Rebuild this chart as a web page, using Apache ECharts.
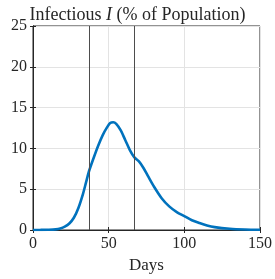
<!DOCTYPE html>
<html>
<head>
<meta charset="utf-8">
<script src="https://cdn.jsdelivr.net/npm/echarts@6/dist/echarts.min.js"></script>
<style>
  html, body { margin: 0; padding: 0; background: #fff; }
  #chart { width: 275px; height: 279px; }
</style>
</head>
<body>
<div id="chart"></div>
<script>
// infectious share
const days = [0, 5, 10, 15, 18, 21, 24, 27, 30, 33, 35, 37, 40, 43, 46, 49, 51, 53, 55, 58, 61, 64, 67, 70, 73, 76, 80, 85, 90, 95, 100, 105, 110, 115, 120, 130, 140, 150]
const infected = [0.0, 0.01, 0.03, 0.08, 0.18, 0.4, 0.8, 1.5, 2.7, 4.4, 5.8, 7.2, 8.8, 10.3, 11.6, 12.6, 13.1, 13.2, 13.0, 12.2, 11.0, 9.8, 8.9, 8.4, 7.6, 6.6, 5.3, 3.9, 2.9, 2.2, 1.7, 1.2, 0.85, 0.55, 0.35, 0.15, 0.06, 0.03]
const eventDays = [37.3, 66.8]
const xTicks = [0, 50, 100, 150]
const yTicks = [0, 5, 10, 15, 20, 25]

const font = 'Liberation Serif'
const chart = echarts.init(document.getElementById('chart'))

chart.setOption({
  animation: false,
  title: {
    text: 'Infectious {i|I} (% of Population)',
    left: 'center', top: 1,
    textStyle: {
      fontFamily: font, fontSize: 18, fontWeight: 'normal', color: '#262626',
      rich: { i: { fontFamily: font, fontSize: 18, fontStyle: 'italic', color: '#262626' } }
    }
  },
  grid: { left: 33, right: 13, top: 26, bottom: 44, show: true, borderColor: '#262626', borderWidth: 1 },
  xAxis: [
    {
      type: 'value', min: xTicks[0], max: xTicks[xTicks.length - 1], interval: 50,
      name: 'Days', nameLocation: 'middle', nameGap: 27,
      nameTextStyle: { fontFamily: font, fontSize: 17, color: '#262626' },
      axisLine: { lineStyle: { color: '#262626' } },
      axisTick: { inside: true, length: 3, lineStyle: { color: '#262626' } },
      axisLabel: { fontFamily: font, fontSize: 16, color: '#262626', margin: 6 },
      splitLine: { lineStyle: { color: '#e3e3e3' } }
    },
    {
      type: 'value', position: 'top', min: 0, max: 150, interval: 50,
      axisLine: { lineStyle: { color: '#262626' } },
      axisTick: { inside: true, length: 3, lineStyle: { color: '#262626' } },
      axisLabel: { show: false }, splitLine: { show: false }
    }
  ],
  yAxis: [
    {
      type: 'value', min: yTicks[0], max: yTicks[yTicks.length - 1], interval: 5,
      axisLine: { show: true, lineStyle: { color: '#262626' } },
      axisTick: { show: true, inside: true, length: 3, lineStyle: { color: '#262626' } },
      axisLabel: { fontFamily: font, fontSize: 16, color: '#262626', margin: 6 },
      splitLine: { lineStyle: { color: '#e3e3e3' } }
    },
    {
      type: 'value', position: 'right', min: 0, max: 25, interval: 5,
      axisLine: { show: true, lineStyle: { color: '#262626' } },
      axisTick: { show: true, inside: true, length: 3, lineStyle: { color: '#262626' } },
      axisLabel: { show: false }, splitLine: { show: false }
    }
  ],
  series: [{
    type: 'line',
    data: days.map((d, i) => [d, infected[i]]),
    smooth: 0.3,
    symbol: 'none',
    lineStyle: { color: '#0072BD', width: 2.6 },
    markLine: {
      silent: true, symbol: 'none', label: { show: false },
      lineStyle: { color: '#4d4d4d', width: 1, type: 'solid' },
      data: eventDays.map(d => ({ xAxis: d }))
    }
  }]
})
</script>
</body>
</html>
